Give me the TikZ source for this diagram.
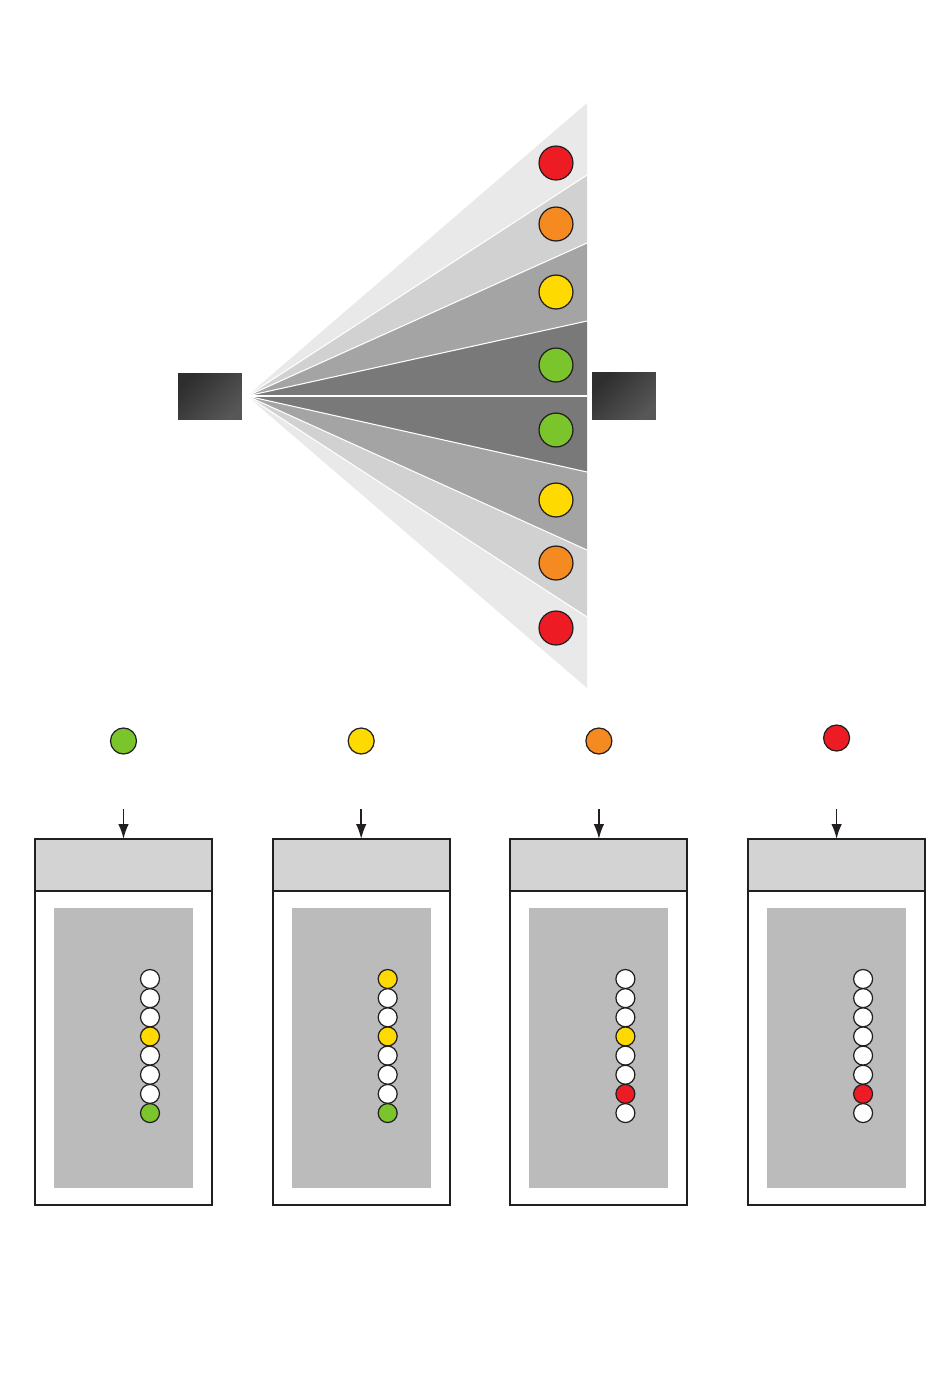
\documentclass[tikz,border=0pt]{standalone}
\usepackage{amsmath}
\usepackage{tikz}
\usetikzlibrary{positioning,arrows.meta}

\definecolor{sigred}{HTML}{ED1C24}
\definecolor{sigorange}{HTML}{F58A20}
\definecolor{sigyellow}{HTML}{FFDA00}
\definecolor{siggreen}{HTML}{79C52B}
\definecolor{inkline}{HTML}{231F20}
\definecolor{bandA}{HTML}{E9E9E9}
\definecolor{bandB}{HTML}{D1D1D1}
\definecolor{bandC}{HTML}{A5A4A4}
\definecolor{bandD}{HTML}{7A7979}
\definecolor{headgray}{HTML}{D3D3D3}
\definecolor{screengray}{HTML}{BBBBBB}

\tikzset{
    lamp/.style={circle, draw=inkline, line width=0.7pt, inner sep=0pt, minimum size=#1},
    block/.style={rectangle, inner sep=0pt, outer sep=0pt, minimum width=36.4pt, minimum height=26.7pt,
        left color=black!82, right color=black!66, shading angle=45},
    header/.style={rectangle, draw=inkline, line width=1.1pt, fill=headgray, inner sep=0pt, outer sep=0pt,
        minimum width=100.7pt, minimum height=29.6pt},
    body/.style={rectangle, draw=inkline, line width=1.1pt, fill=white, inner sep=0pt, outer sep=0pt,
        minimum width=100.7pt, minimum height=178.7pt},
    screen/.style={rectangle, fill=screengray, inner sep=0pt, minimum width=79.1pt, minimum height=159.3pt},
}

\begin{document}
\begin{tikzpicture}[x=0.02cm, y=-0.02cm]
    \useasboundingbox (0,0) rectangle (950,1374);

    % fan of bands
    \coordinate (apex) at (247,396);
    \foreach \ya/\yb/\c in {103/175/bandA, 175/243/bandB, 243/321/bandC, 321/396/bandD,
                           396/472/bandD, 472/550/bandC, 550/617/bandB, 617/688/bandA}
        \fill[\c] (apex) -- (587,\ya) -- (587,\yb) -- cycle;
    \foreach \y in {175,243,321,396,472,550,617}
        \draw[white, line width=0.6pt] (apex) -- (587,\y);

    % blocks
    \node[block] (src) at (210,396.5) {};
    \node[block] (dst) at (624,396) {};

    % lamps in the fan
    \foreach \y/\c [count=\k] in {163/sigred, 224/sigorange, 292/sigyellow, 365/siggreen,
                                 430/siggreen, 500/sigyellow, 563/sigorange, 628/sigred}
        \node[lamp=19.3pt, fill=\c] (f\k) at (556,\y) {};

    % panels
    \foreach \i/\yy/\c/\cols in {1/741/siggreen/{white,white,white,sigyellow,white,white,white,siggreen},
                                2/741/sigyellow/{sigyellow,white,white,sigyellow,white,white,white,siggreen},
                                3/741/sigorange/{white,white,white,sigyellow,white,white,sigred,white},
                                4/738/sigred/{white,white,white,white,white,white,sigred,white}} {
        \pgfmathsetmacro{\x}{123.5+237.7*(\i-1)}
        \node[lamp=14.8pt, fill=\c] (t\i) at (\x,\yy) {};
        \node[header] (h\i) at (\x,865) {};
        \node[body, below=0pt of h\i] (b\i) {};
        \node[screen] (s\i) at (b\i) {};
        \coordinate (a\i) at (\x,809);
        \draw[line width=1pt, inkline, -{Latex[length=8.5pt,width=6pt]}] (a\i) -- (h\i.north);
        \foreach \lc [count=\j] in \cols
            \node[lamp=10.8pt, fill=\lc] (d\i-\j) at ({\x+26.5},{979+19.15*(\j-1)}) {};
    }
\end{tikzpicture}
\end{document}
